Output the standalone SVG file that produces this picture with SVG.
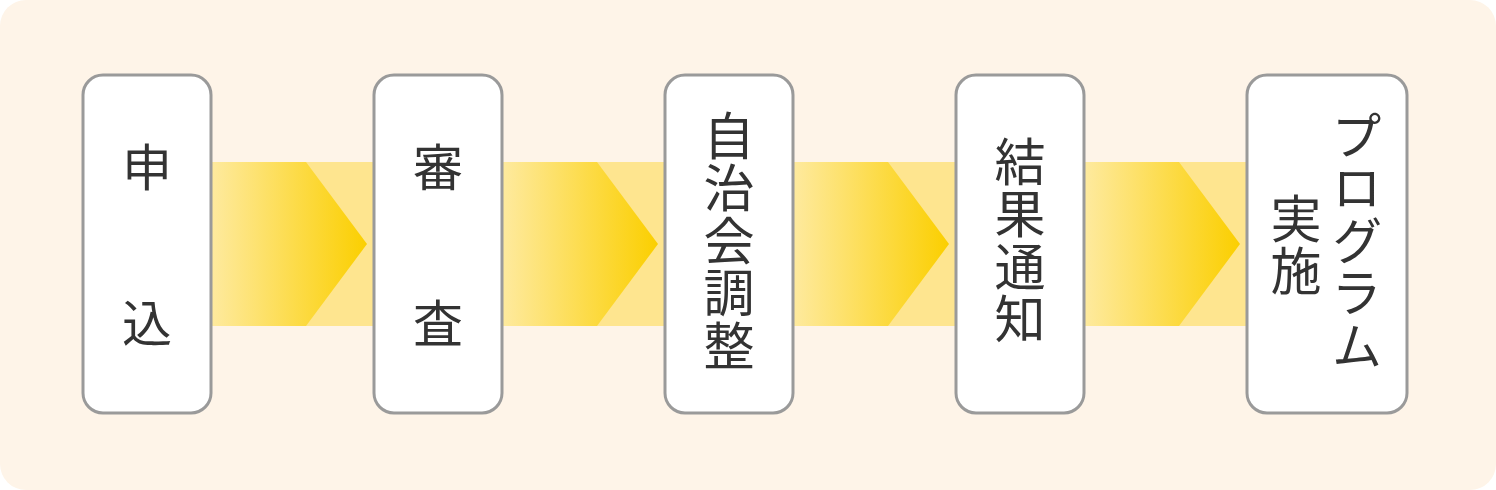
<svg xmlns="http://www.w3.org/2000/svg" width="1496" height="490" viewBox="0 0 1496 490">
<style>
.box{fill:#ffffff;stroke:#9a9a9a;stroke-width:3}
.t{font-family:"Noto Sans CJK JP","Noto Sans CJK SC",sans-serif;font-size:50px;fill:#333333}
.h{text-anchor:middle;dominant-baseline:central}
.v{writing-mode:vertical-rl;font-size:51px;letter-spacing:1.5px}
.band{fill:#fee58f}
.arrow{fill:url(#g)}
</style>
<defs>
<linearGradient id="g" x1="0" y1="0" x2="1" y2="0">
<stop offset="0" stop-color="#feea9f"/>
<stop offset="1" stop-color="#fbcf00"/>
</linearGradient>
</defs>
<rect x="0" y="0" width="1496" height="490" rx="26" fill="#fef4e8"/>
<g id="connectors">
<rect class="band" x="211" y="162" width="1036" height="164"/>
<polygon class="arrow" points="211,162 306,162 367,244 306,326 211,326"/>
<polygon class="arrow" points="502,162 597,162 658,244 597,326 502,326"/>
<polygon class="arrow" points="793,162 888,162 949,244 888,326 793,326"/>
<polygon class="arrow" points="1084,162 1179,162 1240,244 1179,326 1084,326"/>
</g>
<g id="node1">
<rect class="box" x="83" y="75" width="128" height="338" rx="20"/>
<text class="t h" x="147" y="164">申</text>
<text class="t h" x="147" y="320">込</text>
</g>
<g id="node2">
<rect class="box" x="374" y="75" width="128" height="338" rx="20"/>
<text class="t h" x="438" y="164">審</text>
<text class="t h" x="438" y="320">査</text>
</g>
<g id="node3">
<rect class="box" x="665" y="75" width="128" height="338" rx="20"/>
<text class="t v" x="729" y="110">自治会調整</text>
</g>
<g id="node4">
<rect class="box" x="956" y="75" width="128" height="338" rx="20"/>
<text class="t v" x="1020" y="136">結果通知</text>
</g>
<g id="node5">
<rect class="box" x="1247" y="75" width="160" height="338" rx="20"/>
<text class="t v" x="1357" y="110">プログラム</text>
<text class="t v" x="1296" y="193">実施</text>
</g>
</svg>
